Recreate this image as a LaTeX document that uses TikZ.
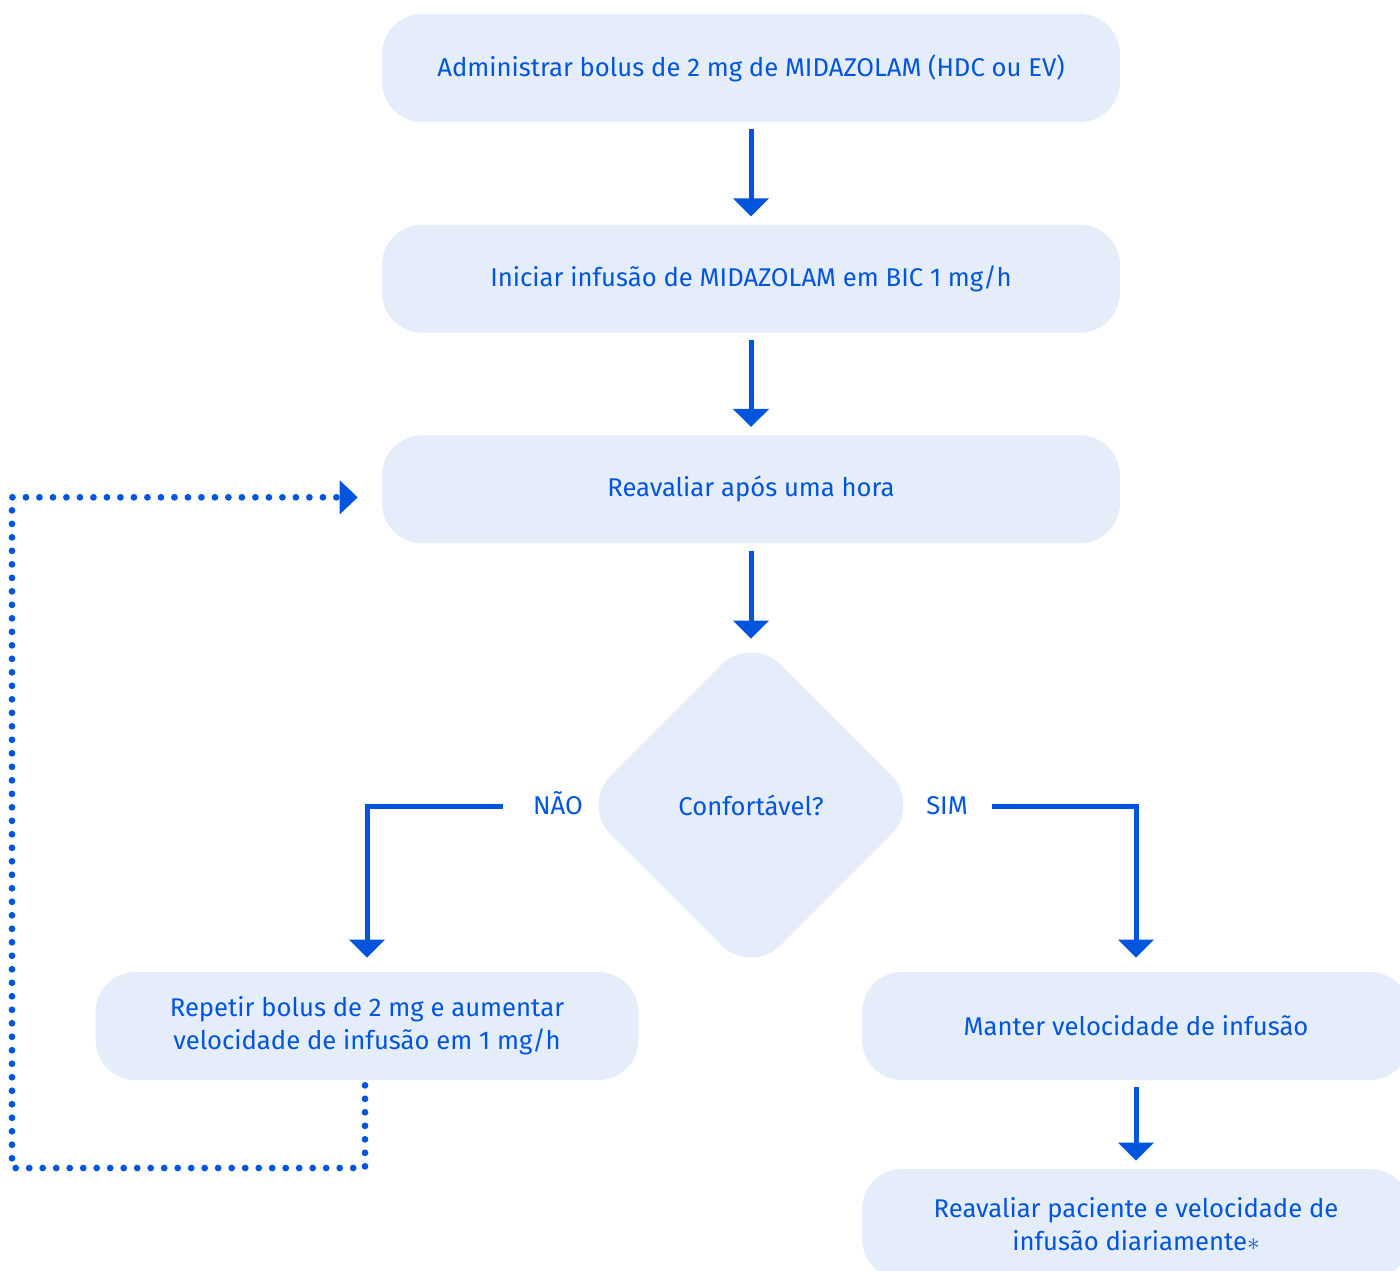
\documentclass[tikz,border=0pt]{standalone}
\usepackage{fontspec}
\setmainfont{Fira Sans}
\usetikzlibrary{positioning,shapes.geometric,arrows.meta}
\definecolor{azul}{HTML}{0055DE}
\definecolor{fundo}{HTML}{E5EDFA}
\begin{document}
\begin{tikzpicture}[
  x=0.02cm, y=-0.02cm,
  every node/.style={font=\fontsize{14.6}{18.6}\selectfont, text=azul},
  caixa/.style={fill=fundo, rounded corners=0.8cm, minimum width=14.76cm,
    minimum height=2.16cm, align=center, inner sep=0pt},
  decisao/.style={fill=fundo, diamond, aspect=1, minimum size=6.8cm,
    rounded corners=0.84cm, inner sep=0pt},
  rotulo/.style={inner sep=0pt, text height=9.7pt, text depth=0pt},
  seta/.style={draw=azul, line width=0.1cm,
    -{Triangle[width=0.7cm, length=0.36cm]}, shorten <=0.14cm, shorten >=0.16cm},
  pontilhado/.style={draw=azul, line width=0.135cm, line cap=round,
    dash pattern=on 0pt off 0.27cm, -{Triangle[width=0.66cm, length=0.36cm]}},
  node distance=2.04cm
]
\clip (0,0) rectangle (1400,1271);

% coluna principal
\node[caixa] (admin) at (751,68) {Administrar bolus de 2 mg de MIDAZOLAM (HDC ou EV)};
\node[caixa, below=of admin] (iniciar) {Iniciar infusão de MIDAZOLAM em BIC 1 mg/h};
\node[caixa, below=of iniciar] (reavaliar) {Reavaliar após uma hora};
\node[decisao] (conf) at (751,805) {Confortável?};
\node[rotulo] (nao) at (558,806) {NÃO};
\node[rotulo] (sim) at (947,806) {SIM};

% ramos
\node[caixa, minimum width=10.86cm] (repetir) at (367,1026)
  {Repetir bolus de 2 mg e aumentar\\velocidade de infusão em 1 mg/h};
\node[caixa, minimum width=10.96cm] (manter) at (1136,1026) {Manter velocidade de infusão};
\node[caixa, minimum width=10.96cm, minimum height=2.2cm] (diario) at (1136,1224)
  {Reavaliar paciente e velocidade de\\infusão diariamente$\ast$};

\draw[seta] (admin) -- (iniciar);
\draw[seta] (iniciar) -- (reavaliar);
\draw[seta] (reavaliar.south) -- ++(0,103);
\draw[seta, shorten <=0.6cm, shorten >=0.28cm] (nao.west) -| (repetir.north);
\draw[seta, shorten <=0.48cm, shorten >=0.28cm] (sim.east) -| (manter.north);
\draw[seta, shorten >=0.16cm] (manter.south) -- (diario.north);

% volta pontilhada
\coordinate (canto) at (12,1168);
\draw[pontilhado, shorten >=0.48cm] ([xshift=-0.04cm, yshift=-0.1cm]repetir.south)
  |- (canto) |- ([yshift=-0.16cm]reavaliar.west);
\end{tikzpicture}
\end{document}
